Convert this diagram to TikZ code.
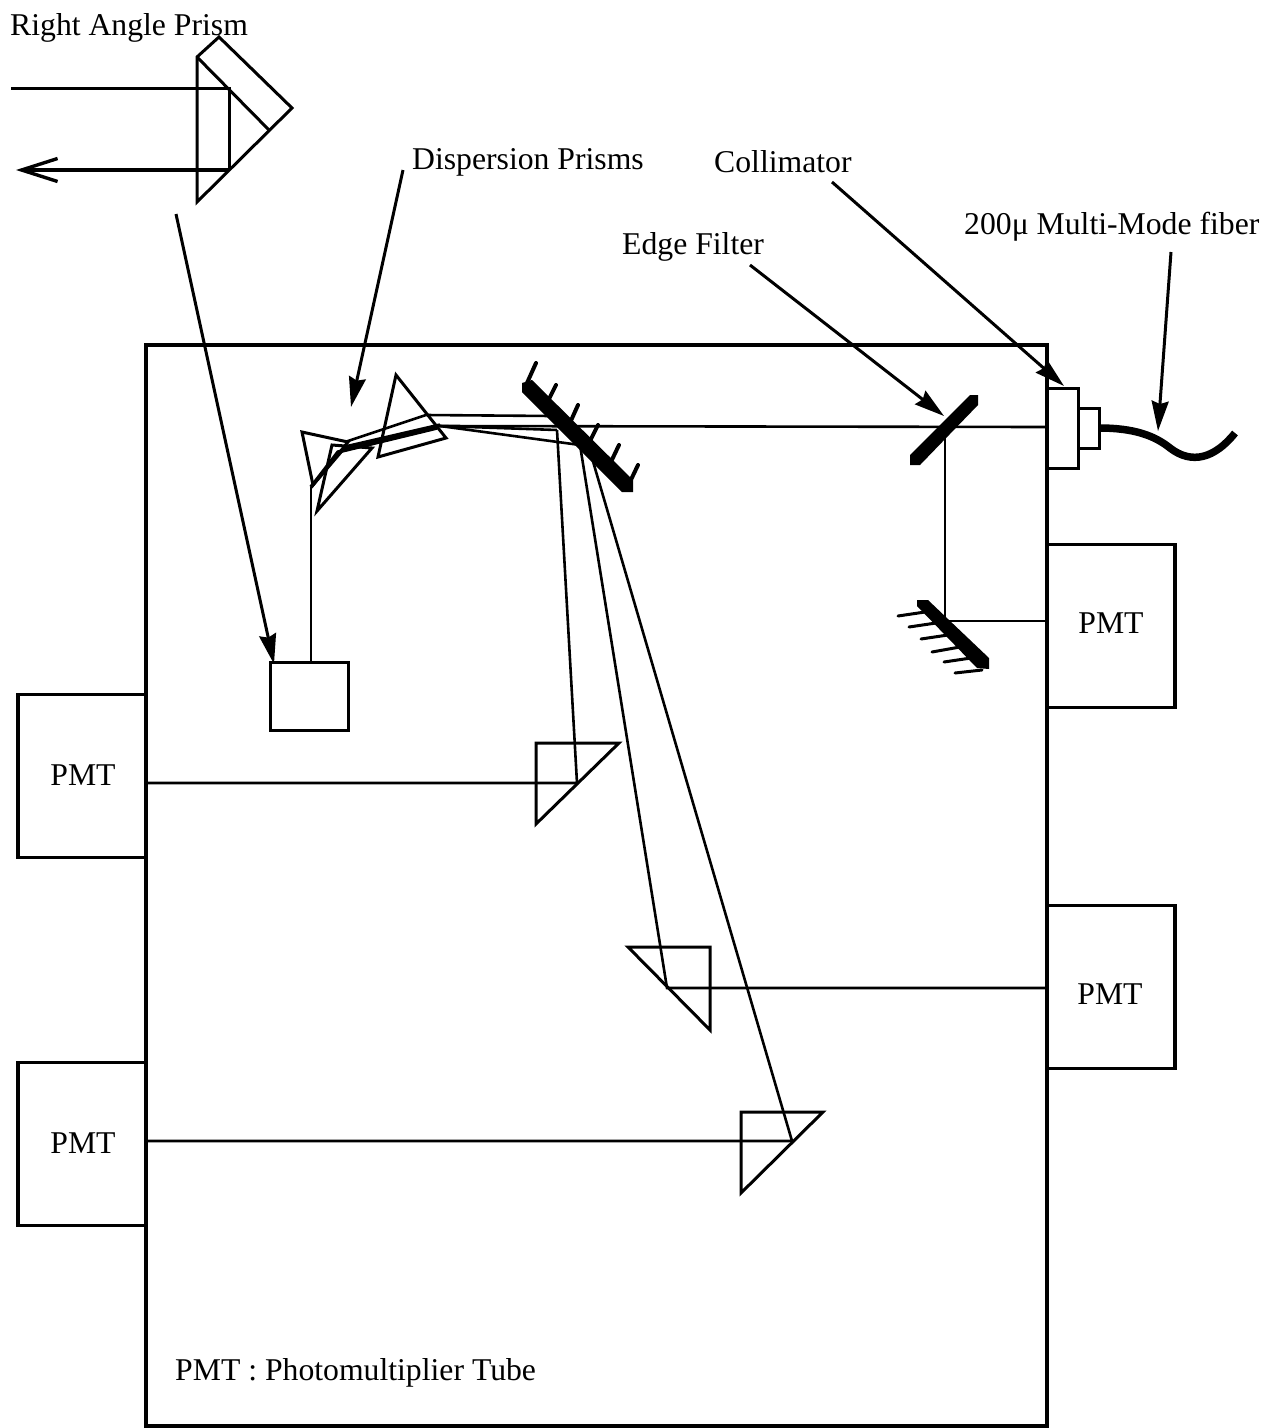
\documentclass[tikz,border=0pt]{standalone}
\usepackage{fontspec}
\setmainfont{Liberation Serif}
\usetikzlibrary{arrows.meta, positioning}

\begin{document}
\begin{tikzpicture}[
		x=1pt, y=-1pt,
		label/.style={anchor=base west, inner sep=0pt, font=\fontsize{31.7}{36}\selectfont},
		pmt/.style={draw, line width=3.8pt, inner sep=0pt, outer sep=0pt, minimum width=128pt, minimum height=163pt},
		pmtlabel/.style={inner sep=0pt, font=\fontsize{31.7}{36}\selectfont},
		housing/.style={draw, line width=4.5pt, inner sep=0pt, outer sep=0pt, minimum width=901pt, minimum height=1081pt},
		part/.style={draw, line width=3pt, inner sep=0pt, outer sep=0pt},
		prism/.style={line width=3pt, line join=miter},
		beam/.style={line width=2.6pt},
		pointer/.style={-{Stealth[length=30pt, width=17pt, inset=3pt]}, line width=3pt},
		tooth/.style={line width=4pt, line cap=round}
	]
	\useasboundingbox (0,0) rectangle (1265,1428);

	% housing and detectors
	\node[housing] (housing) at (596.5,885.5) {};
	\node[pmt, anchor=east] (pmtA) at (146,776) {};
	\node[pmt, anchor=east] (pmtB) at (146,1144) {};
	\node[pmt, anchor=west] (pmtC) at (1047,626) {};
	\node[pmt, anchor=west] (pmtD) at (1047,987) {};
	\node[pmtlabel] (txtA) at (83,775) {PMT};
	\node[pmtlabel] (txtB) at (83,1143) {PMT};
	\node[pmtlabel] (txtC) at (1111,623) {PMT};
	\node[pmtlabel] (txtD) at (1110,994) {PMT};
	\node[part, minimum width=78pt, minimum height=68pt] (source) at (309,696) {};
	\node[part, minimum width=31pt, minimum height=80pt, fill=white] (collimator) at (1062.5,428) {};
	\node[part, minimum width=21pt, minimum height=40pt, right=0pt of collimator] (ferrule) {};

	% labels
	\node[label] (lblRight) at (10,35) {Right Angle Prism};
	\node[label] (lblDisp) at (412,169) {Dispersion Prisms};
	\node[label] (lblColl) at (714,172) {Collimator};
	\node[label] (lblFiber) at (964,234) {200μ Multi-Mode fiber};
	\node[label] (lblEdge) at (622,254) {Edge Filter};
	\node[label] (lblPmt) at (175,1380) {PMT : Photomultiplier Tube};

	% right angle prism
	\coordinate (rapA) at (197,57);
	\coordinate (rapB) at (197,202);
	\coordinate (rapC) at (292,108);
	\coordinate (rapD) at (219,37);
	\coordinate (rapE) at (269,130);
	\coordinate (rapIn) at (229,88);
	\coordinate (rapOut) at (229,170);
	\coordinate (inEnd) at (11,88);
	\coordinate (outEnd) at (16,170);
	\draw[prism] (rapA) -- (rapD) -- (rapC) -- (rapB) -- cycle;
	\draw[prism] (rapA) -- (rapE);
	\draw[beam, line width=3pt] (inEnd) -- (rapIn) -- (rapOut);
	\draw[line width=3.2pt, -{Straight Barb[length=36pt, width=23pt, line width=3.4pt]}] (rapOut) -- (outEnd);

	% dispersion prisms
	\draw[prism] (302,432) -- (348,442) -- (313,485) -- cycle;
	\draw[prism] (332,445) -- (372,448) -- (317,511) -- cycle;
	\draw[prism] (396,375) -- (446,438) -- (378,457) -- cycle;

	% grating
	\fill (522,383) -- (532,380) -- (633,480) -- (633,492) -- (622,492) -- (522,392) -- cycle;
	\foreach \xa/\ya/\xb/\yb in {527/383/536/363, 547/403/556/385, 569/425/578/405, 588/445/598/425, 609/466/619/445, 628/486/638/465}
		\draw[tooth] (\xa,\ya) -- (\xb,\yb);

	% edge filter and second mirror
	\fill (978,395) -- (970,395) -- (910,455) -- (910,465) -- (920,465) -- (978,405) -- cycle;
	\fill (917,600) -- (928,600) -- (989,658) -- (989,669) -- (977,668) -- (917,606) -- cycle;
	\foreach \xa/\ya/\xb/\yb in {898/616/925/612, 909/627/936/623, 921/639/948/635, 932/652/960/647, 944/662/971/658, 955/673/982/670}
		\draw[tooth, line width=3pt] (\xa,\ya) -- (\xb,\yb);

	% turning prisms
	\coordinate (turnA) at (577,783);
	\coordinate (turnB) at (667,988);
	\coordinate (turnC) at (792,1141);
	\draw[prism] (536,743) -- (619,743) -- (536,824) -- cycle;
	\draw[prism] (628,947) -- (710,947) -- (710,1030) -- cycle;
	\draw[prism] (741,1112) -- (823,1112) -- (741,1193) -- cycle;

	% light path
	\coordinate (bend) at (311,487);
	\coordinate (gratHitA) at (557,430);
	\coordinate (gratHitB) at (580,445);
	\coordinate (gratHitC) at (592,458);
	\draw[beam] (source.north -| bend) -- (bend);
	\draw[beam, line width=3.5pt] (bend) -- (345,447) -- (440,425);
	\draw[beam, line width=3.5pt] (bend) -- (338,452) -- (437,428);
	\draw[beam] (345,442) -- (426,415) -- (552,416);
	\draw[beam] (435,426) -- (collimator.west |- 0,427);
	\draw[beam] (440,426) -- (gratHitA);
	\draw[beam] (440,426) -- (gratHitB);
	\draw[beam] (gratHitA) -- (turnA) -- (turnA -| pmtA.east);
	\draw[beam] (gratHitB) -- (turnB) -- (turnB -| pmtD.west);
	\draw[beam] (gratHitC) -- (turnC) -- (turnC -| pmtB.east);
	\draw[beam] (945,430) -- (945,621) -- (pmtC.west |- 0,621);

	% fiber
	\draw[line width=7.5pt] (ferrule.east) .. controls (1135,428) and (1155,436) .. (1170,448) .. controls (1192,465) and (1215,458) .. (1235,433);

	% pointers
	\draw[pointer] (176,214) -- (274,664);
	\draw[pointer] (403,170) -- (351,407);
	\draw[pointer] (832,182) -- (1064,386);
	\draw[pointer] (750,265) -- (944,416);
	\draw[pointer] (1171,252) -- (1158,431);
\end{tikzpicture}
\end{document}
